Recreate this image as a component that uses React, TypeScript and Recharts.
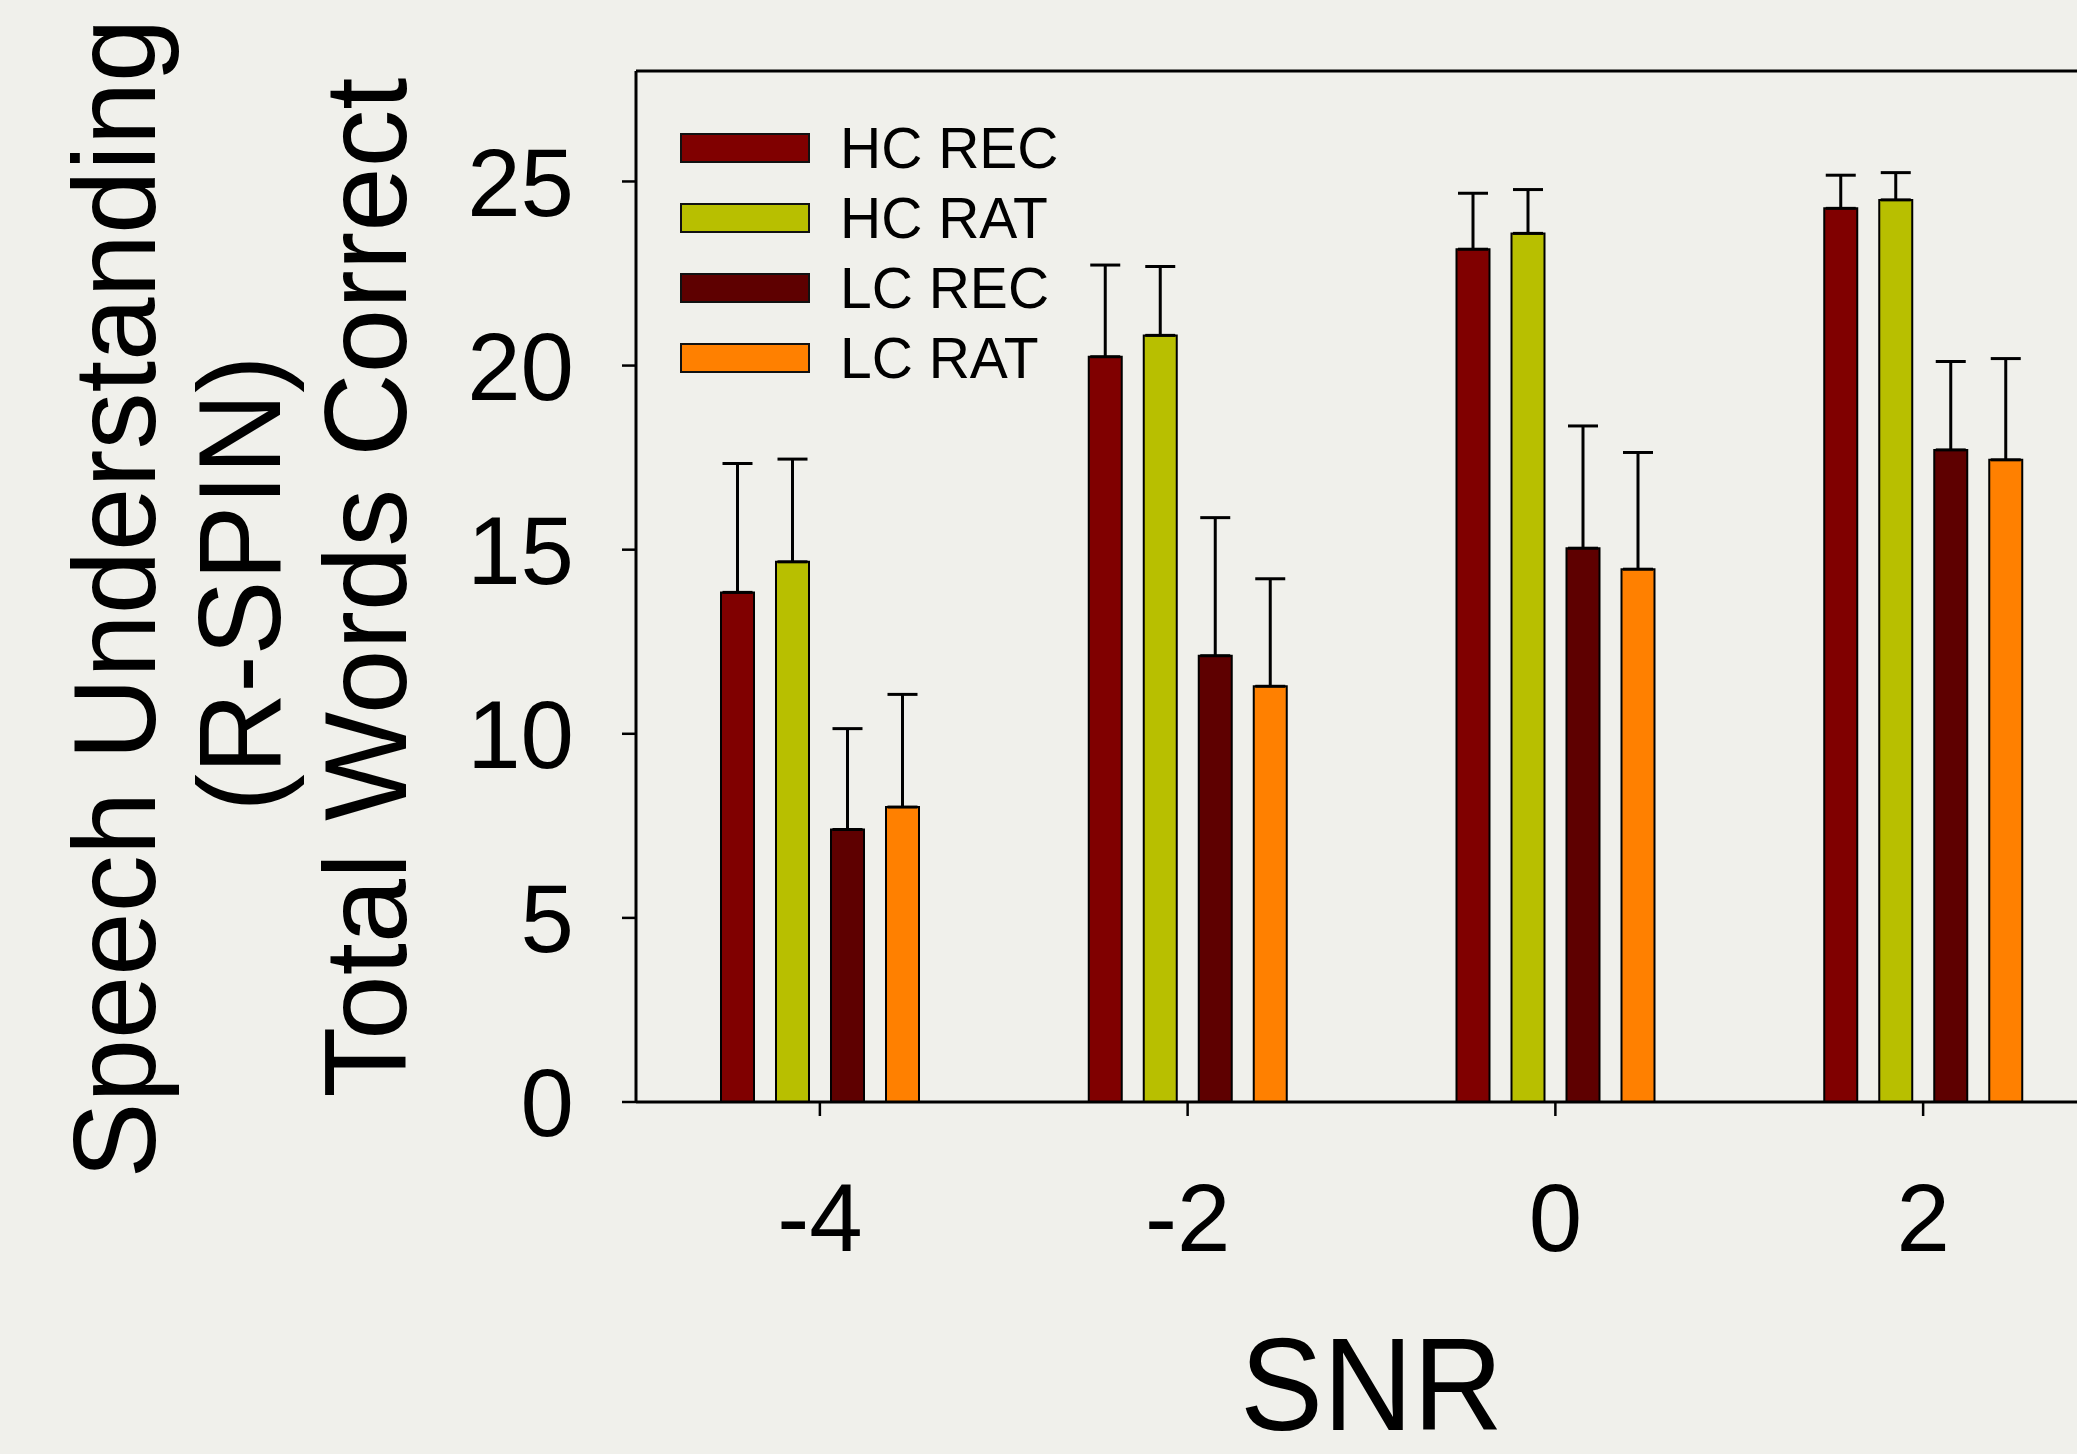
import React from 'react';
import { BarChart, Bar, XAxis, YAxis, ErrorBar, Legend, ReferenceLine } from 'recharts';

// values (mean and upper SEM per SNR level)
const categories = ['-4', '-2', '0', '2'];
const hcRec = [13.84, 20.24, 23.16, 24.27];
const hcRat = [14.67, 20.82, 23.59, 24.5];
const lcRec = [7.4, 12.12, 15.04, 17.71];
const lcRat = [8.01, 11.29, 14.47, 17.44];
const hcRecErr = [3.5, 2.49, 1.52, 0.9];
const hcRatErr = [2.79, 1.87, 1.19, 0.74];
const lcRecErr = [2.74, 3.75, 3.32, 2.4];
const lcRatErr = [3.06, 2.92, 3.17, 2.75];
const yTicks = [0, 5, 10, 15, 20, 25];

const series = [
  { key: 'hcRec', name: 'HC REC', color: '#800000' },
  { key: 'hcRat', name: 'HC RAT', color: '#B8BF00' },
  { key: 'lcRec', name: 'LC REC', color: '#5E0000' },
  { key: 'lcRat', name: 'LC RAT', color: '#FF8000' },
];

const data = categories.map((snr, i) => ({
  snr,
  hcRec: hcRec[i],
  hcRat: hcRat[i],
  lcRec: lcRec[i],
  lcRat: lcRat[i],
  hcRecErr: [0, hcRecErr[i]],
  hcRatErr: [0, hcRatErr[i]],
  lcRecErr: [0, lcRecErr[i]],
  lcRatErr: [0, lcRatErr[i]],
}));

const FONT = '"Liberation Sans", Arial, Helvetica, sans-serif';
const BG = '#F0F0EB';

const YTitle = (props: any) => {
  const vb = props.viewBox || { x: 0, y: 71, width: 636, height: 1031 };
  const cy = vb.y + vb.height / 2;
  const lines = [
    { text: 'Speech Understanding', x: 155, y: cy + 12, len: 1160 },
    { text: '(R-SPIN)', x: 280, y: cy - 3, len: 456 },
    { text: 'Total Words Correct', x: 406, y: cy + 1, len: 1020 },
  ];
  return (
    <g fontFamily={FONT} fontSize={117} fill="#000">
      {lines.map((l) => (
        <text
          key={l.text}
          x={l.x}
          y={l.y}
          transform={`rotate(-90 ${l.x} ${l.y})`}
          textAnchor="middle"
          textLength={l.len}
          lengthAdjust="spacingAndGlyphs"
        >
          {l.text}
        </text>
      ))}
    </g>
  );
};

const XTitle = (props: any) => {
  const vb = props.viewBox || { x: 636, y: 1102, width: 1471, height: 352 };
  return (
    <text
      x={vb.x + vb.width / 2}
      y={vb.y + 328}
      textAnchor="middle"
      fontFamily={FONT}
      fontSize={132}
      fill="#000"
      textLength={263}
      lengthAdjust="spacingAndGlyphs"
    >
      SNR
    </text>
  );
};

// legend keeps the series order (HC REC, HC RAT, LC REC, LC RAT)
const LegendBox = () => (
  <div style={{ fontFamily: FONT, fontSize: 57, color: '#000' }}>
    {series.map((s) => (
      <div key={s.key} style={{ display: 'flex', alignItems: 'center', height: 70 }}>
        <div
          style={{
            width: 130,
            height: 30,
            boxSizing: 'border-box',
            background: s.color,
            border: '2px solid #111',
            marginRight: 30,
          }}
        />
        <span style={{ lineHeight: '70px' }}>{s.name}</span>
      </div>
    ))}
  </div>
);

export default function App() {
  return (
    <div
      style={{
        position: 'absolute',
        left: 0,
        top: 0,
        width: 2077,
        height: 1454,
        overflow: 'hidden',
        background: BG,
      }}
    >
      <BarChart
        width={2112}
        height={1454}
        data={data}
        margin={{ top: 71, right: 5, left: 0, bottom: 0 }}
        barSize={33}
        barGap={22}
      >
        <XAxis
          dataKey="snr"
          height={352}
          axisLine={{ stroke: '#000', strokeWidth: 3 }}
          tickLine={{ stroke: '#000', strokeWidth: 2.5 }}
          tickSize={14}
          tickMargin={67}
          tick={{ fill: '#000', fontSize: 96, fontFamily: FONT }}
          label={<XTitle />}
        />
        <YAxis
          width={636}
          domain={[0, 28]}
          ticks={yTicks}
          allowDataOverflow
          axisLine={{ stroke: '#000', strokeWidth: 3 }}
          tickLine={{ stroke: '#000', strokeWidth: 2.5 }}
          tickSize={14}
          tickMargin={48}
          tick={{ fill: '#000', fontSize: 96, fontFamily: FONT }}
          label={<YTitle />}
        />
        <ReferenceLine y={28} stroke="#000" strokeWidth={3} />
        <Legend
          layout="vertical"
          align="center"
          verticalAlign="middle"
          content={<LegendBox />}
          wrapperStyle={{ left: 680, top: 113, width: 500, height: 290 }}
        />
        {series.map((s) => (
          <Bar
            key={s.key}
            dataKey={s.key}
            name={s.name}
            fill={s.color}
            stroke="#000"
            strokeWidth={2}
            isAnimationActive={false}
          >
            <ErrorBar
              dataKey={`${s.key}Err`}
              width={15}
              stroke="#000"
              strokeWidth={3}
              isAnimationActive={false}
            />
          </Bar>
        ))}
      </BarChart>
    </div>
  );
}
